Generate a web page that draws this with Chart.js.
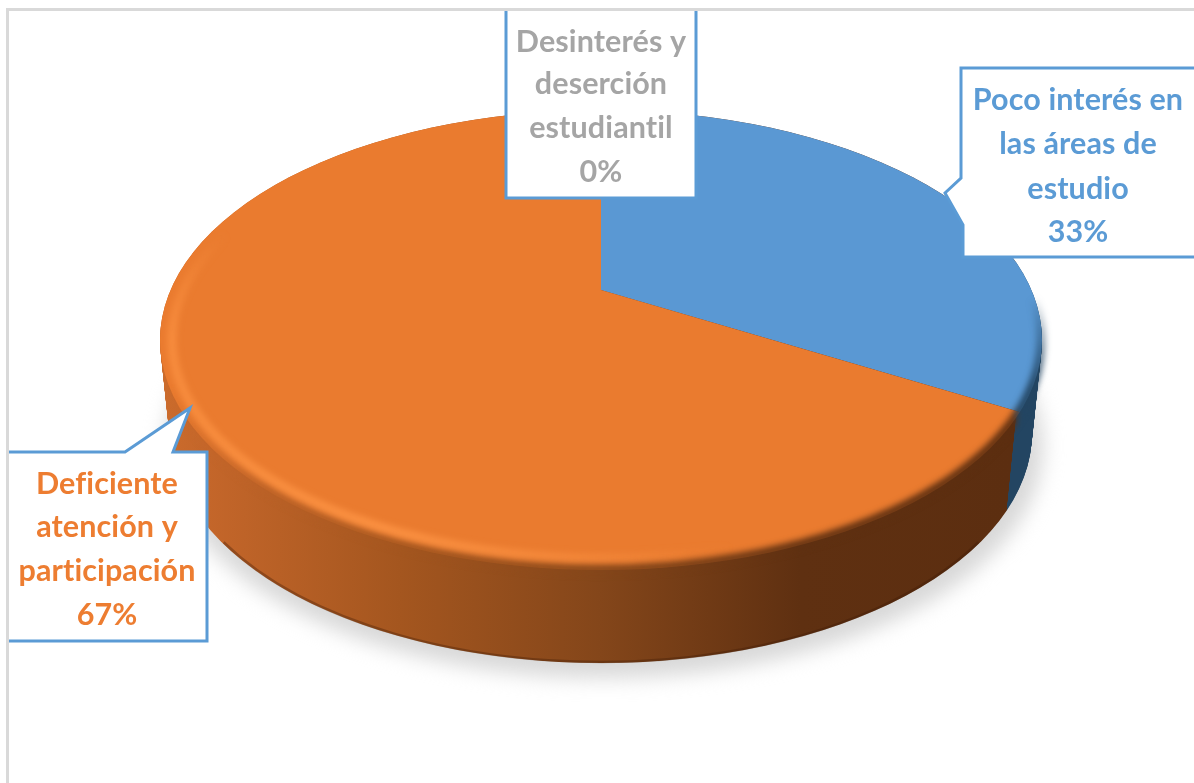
<!DOCTYPE html>
<html>
<head>
<meta charset="utf-8">
<script src="https://cdn.jsdelivr.net/npm/chart.js@4/dist/chart.umd.min.js"></script>
<style>
  html, body { margin: 0; padding: 0; background: #fff; }
  canvas { display: block; }
</style>
</head>
<body>
<canvas id="pie" width="1194" height="783"></canvas>
<script>
const categories = ['Poco interés en las áreas de estudio', 'Deficiente atención y participación', 'Desinterés y deserción estudiantil'];
const labelLines = [
    ['Poco interés en', 'las áreas de', 'estudio'],
    ['Deficiente', 'atención y', 'participación'],
    ['Desinterés y', 'deserción', 'estudiantil']
];
const seriesValues = [33, 67, 0];
const sliceColors = ['#5a98d3', '#ea7b2f', '#a5a5a5'];
const labelColors = ['#5b9bd5', '#ed7d31', '#a5a5a5'];

// the tilted disc: apex of the slices sits above the centre of the ellipse
const apex = { x: 601, y: 290 };
const face = { x: 601, y: 340, rx: 441, ry: 230 };
const depth = 93;
const bottomRx = 431;
const tiltY = 0.53;
const lineBlue = '#5b9bd5';

const callouts = [
    { cx: 1078, ys: [100, 144, 189, 232], outline: [[1194, 68], [961, 68], [961, 178], [945, 193], [963, 225], [963, 257], [1194, 257]] },
    { cx: 107, ys: [484, 527, 571, 615], outline: [[9, 452], [125, 452], [190, 408], [173, 452], [207, 452], [207, 641], [9, 641]] },
    { cx: 601, ys: [42, 84, 128, 172], outline: [[506, 11], [506, 198], [696, 198], [696, 11]] }
];

function sideBoundaryX(angle) {
    const dx = Math.cos(angle), dy = Math.sin(angle) * tiltY;
    const ox = apex.x - face.x, oy = apex.y - face.y;
    const a = dx * dx / (face.rx * face.rx) + dy * dy / (face.ry * face.ry);
    const b = 2 * (ox * dx / (face.rx * face.rx) + oy * dy / (face.ry * face.ry));
    const c = ox * ox / (face.rx * face.rx) + oy * oy / (face.ry * face.ry) - 1;
    const t = (-b + Math.sqrt(b * b - 4 * a * c)) / (2 * a);
    return apex.x + t * dx - 4;
}

function sideGradient(ctx, boundaryX) {
    const left = face.x - face.rx, right = face.x + face.rx, w = right - left;
    const g = ctx.createLinearGradient(left, 0, right, 0);
    const stop = (boundaryX - left) / w;
    g.addColorStop(0, '#cc6c2c');
    g.addColorStop((208 - left) / w, '#c4662a');
    g.addColorStop((400 - left) / w, '#a4561f');
    g.addColorStop((600 - left) / w, '#84461a');
    g.addColorStop((800 - left) / w, '#5f3011');
    g.addColorStop(stop, '#5c2e10');
    g.addColorStop(Math.min(stop + 0.0005, 1), '#234562');
    g.addColorStop(1, '#234562');
    return g;
}

function highlightGradient(ctx) {
    const left = face.x - face.rx;
    const g = ctx.createLinearGradient(left, 0, left + face.rx * 2, 0);
    g.addColorStop(0, 'rgba(255,150,70,0.6)');
    g.addColorStop(0.25, 'rgba(255,150,70,0.8)');
    g.addColorStop(0.5, 'rgba(255,150,70,0.35)');
    g.addColorStop(0.65, 'rgba(255,150,70,0)');
    return g;
}

// rim band along the face, piecewise off screen so it can fade at both ends, then blurred
function fadedArc(ctx, makeStroke, o) {
    const layer = document.createElement('canvas');
    layer.width = ctx.canvas.width;
    layer.height = ctx.canvas.height;
    const c = layer.getContext('2d');
    c.strokeStyle = makeStroke(c);
    c.lineWidth = o.width;
    const steps = 160;
    for (let i = 0; i < steps; i++) {
        const a = o.from + (o.to - o.from) * i / steps;
        const b = o.from + (o.to - o.from) * (i + 1) / steps + 0.002;
        c.globalAlpha = Math.min(1, (a - o.from) / o.fadeIn, (o.to - a) / o.fadeOut);
        c.beginPath();
        c.ellipse(face.x, face.y, face.rx - o.inset, face.ry - o.inset, 0, a, b);
        c.stroke();
    }
    ctx.save();
    ctx.filter = 'blur(' + o.blur + 'px)';
    ctx.drawImage(layer, 0, 0);
    ctx.restore();
}

const disc3d = {
    id: 'disc3d',
    beforeDatasetsDraw(chart) {
        const ctx = chart.ctx;
        const slices = chart.getDatasetMeta(0).data;
        const edgeX = sideBoundaryX(slices[0].endAngle);

        // soft shadow on the floor
        ctx.save();
        ctx.filter = 'blur(10px)';
        ctx.fillStyle = '#d8d8d8';
        ctx.beginPath();
        ctx.ellipse(face.x + 3, face.y + depth + 13, face.rx - 2, face.ry + 2, 0, 0, Math.PI * 2);
        ctx.fill();
        ctx.restore();

        // wall of the disc, stacked from the bottom up
        ctx.save();
        for (let d = depth; d >= 0; d--) {
            const rx = face.rx + (bottomRx - face.rx) * d / depth;
            ctx.fillStyle = sideGradient(ctx, face.x + (edgeX - face.x) * rx / face.rx);
            ctx.beginPath();
            ctx.ellipse(face.x, face.y + d, rx, face.ry, 0, 0, Math.PI * 2);
            ctx.fill();
        }
        ctx.strokeStyle = 'rgba(60,25,5,0.35)';
        ctx.lineWidth = 2.5;
        ctx.beginPath();
        ctx.ellipse(face.x, face.y + depth - 1, bottomRx - 1, face.ry, 0, 0.5, Math.PI - 0.5);
        ctx.stroke();
        ctx.restore();

        // the slices themselves go through the ellipse clip and the tilt
        ctx.save();
        ctx.beginPath();
        ctx.ellipse(face.x, face.y, face.rx, face.ry, 0, 0, Math.PI * 2);
        ctx.clip();
        const arc = slices[0];
        const grow = 1.6;
        ctx.translate(apex.x, apex.y);
        ctx.scale(grow, grow * tiltY);
        ctx.translate(-arc.x, -arc.y);
    },
    afterDatasetsDraw(chart) {
        const ctx = chart.ctx;
        ctx.restore();
        const slices = chart.getDatasetMeta(0).data;
        const edgeX = sideBoundaryX(slices[0].endAngle);

        fadedArc(ctx, function (c) { return sideGradient(c, edgeX); }, {
            width: 9, inset: 1, blur: 3, from: -0.2, to: Math.PI * 0.93, fadeIn: 0.4, fadeOut: 0.5
        });
        fadedArc(ctx, highlightGradient, {
            width: 9, inset: 12, blur: 3, from: Math.PI * 0.35, to: Math.PI * 1.16, fadeIn: 0.3, fadeOut: 0.5
        });

        // page frame
        ctx.save();
        ctx.fillStyle = '#d9d9d9';
        ctx.fillRect(6, 8, 1188, 3);
        ctx.fillRect(6, 8, 3, 775);
        ctx.restore();

        // callouts
        ctx.save();
        ctx.textAlign = 'center';
        ctx.textBaseline = 'middle';
        callouts.forEach(function (box, i) {
            ctx.beginPath();
            box.outline.forEach(function (p, k) {
                if (k === 0) ctx.moveTo(p[0], p[1]); else ctx.lineTo(p[0], p[1]);
            });
            ctx.fillStyle = '#fff';
            ctx.fill();
            ctx.strokeStyle = lineBlue;
            ctx.lineWidth = 3;
            ctx.lineJoin = 'miter';
            ctx.stroke();

            ctx.fillStyle = labelColors[i];
            ctx.font = 'bold 30.5px Lato';
            ctx.letterSpacing = '0.1px'; // also stops the fi and ti ligatures
            ctx.filter = 'blur(0.4px)';
            labelLines[i].concat(seriesValues[i] + '%').forEach(function (line, k) {
                ctx.fillText(line, box.cx, box.ys[k]);
            });
            ctx.filter = 'none';
        });
        ctx.restore();
    }
};

new Chart(document.getElementById('pie').getContext('2d'), {
    type: 'pie',
    data: {
        labels: categories,
        datasets: [{
            data: seriesValues,
            backgroundColor: sliceColors,
            borderWidth: 0
        }]
    },
    options: {
        responsive: false,
        animation: false,
        layout: { padding: 0 },
        plugins: {
            legend: { display: false },
            tooltip: { enabled: false }
        }
    },
    plugins: [disc3d]
});
</script>
</body>
</html>
